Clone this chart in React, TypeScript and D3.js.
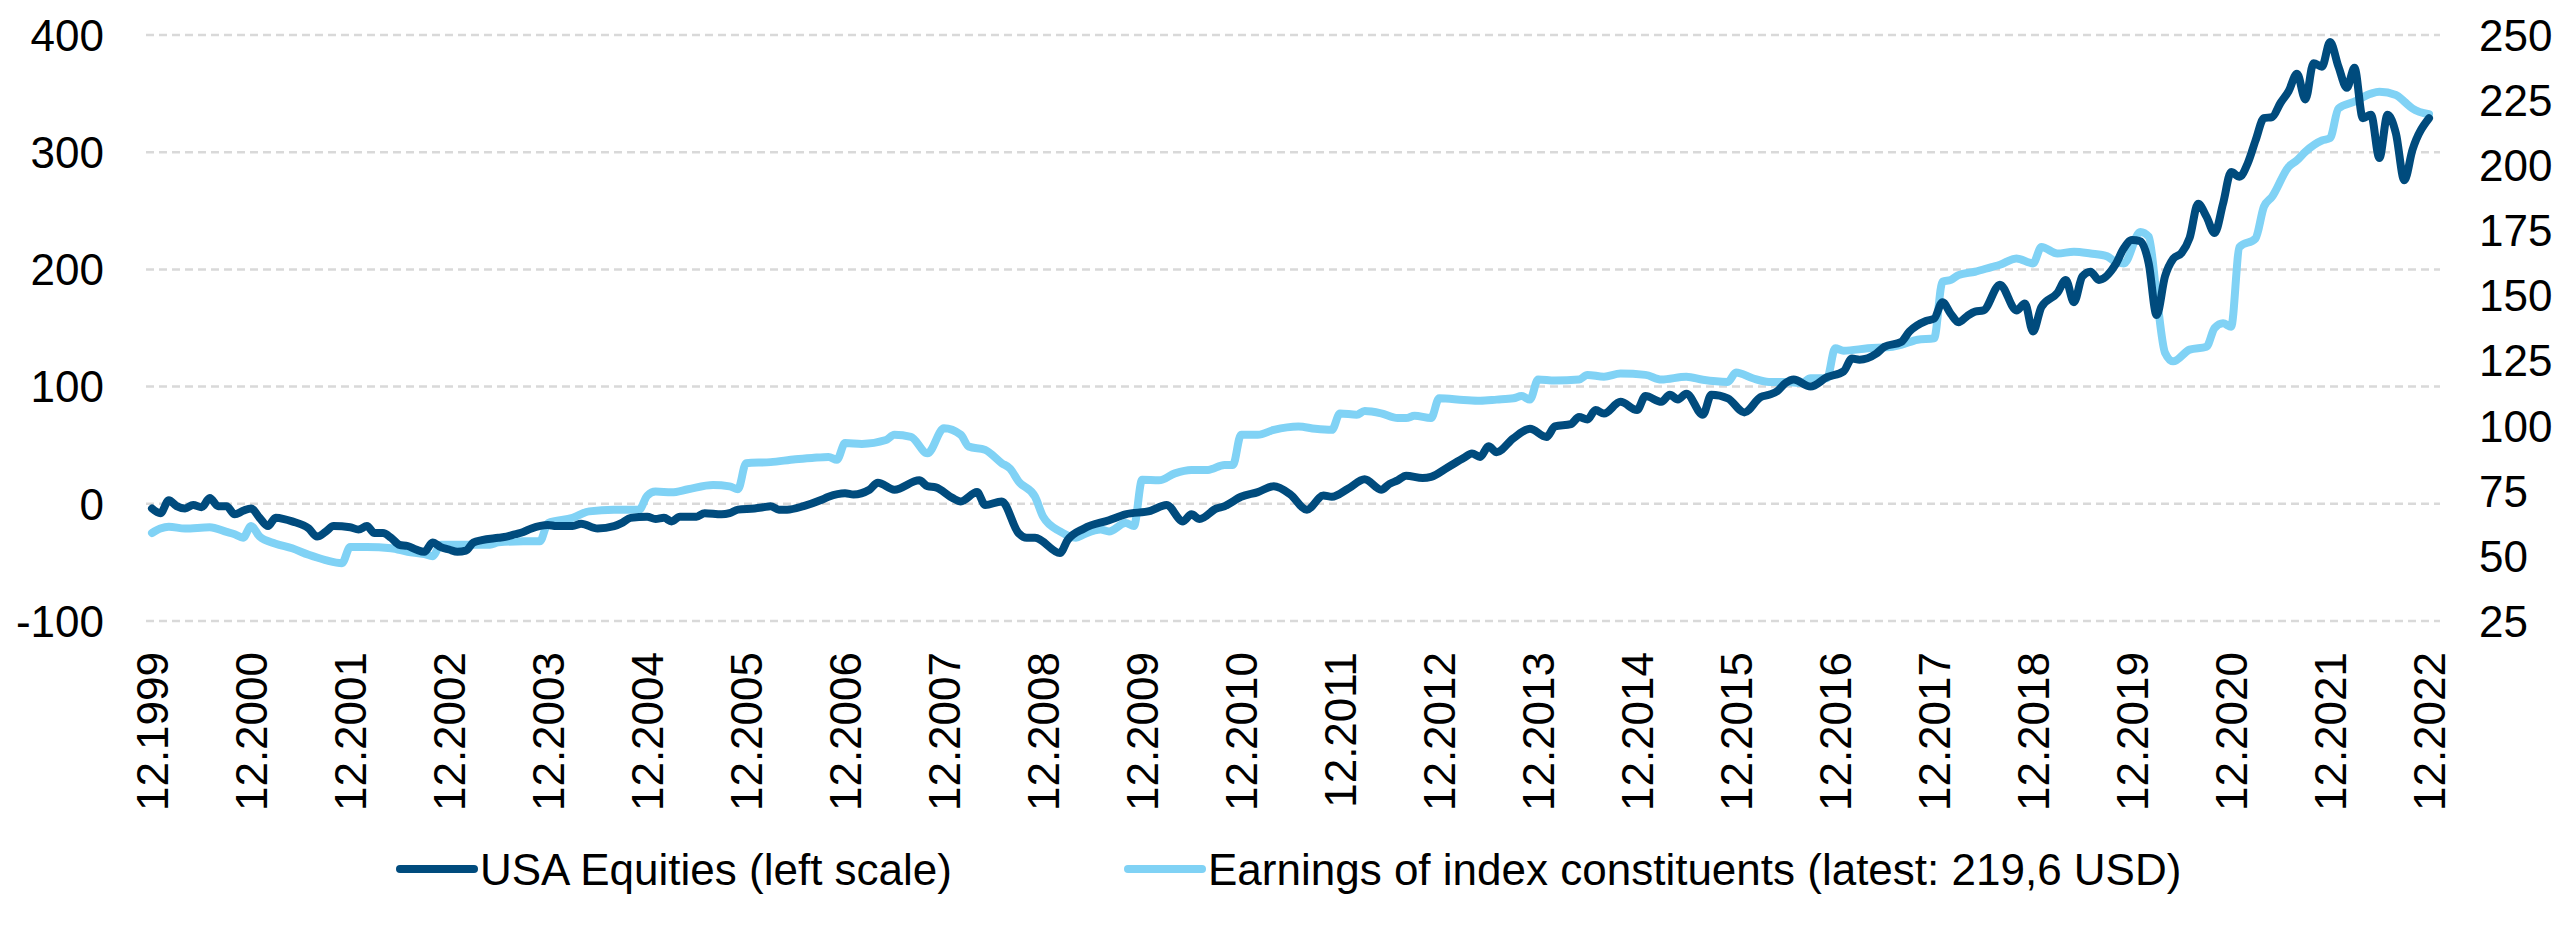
import { scaleLinear, scaleTime, line, curveMonotoneX } from 'd3'

// USA equities, % change since 12.1999 (left scale)
const equityDates = [
  '1999-12',
  '2000-01', '2000-02', '2000-03', '2000-04', '2000-05', '2000-06', '2000-07', '2000-08', '2000-09', '2000-10', '2000-11', '2000-12',
  '2001-01', '2001-02', '2001-03', '2001-04', '2001-05', '2001-07', '2001-08', '2001-09', '2001-10', '2001-12',
  '2002-01', '2002-02', '2002-03', '2002-04', '2002-05', '2002-06', '2002-07', '2002-08', '2002-09', '2002-10', '2002-11', '2002-12',
  '2003-01', '2003-02', '2003-03', '2003-04', '2003-06', '2003-07', '2003-08', '2003-09', '2003-10', '2003-12',
  '2004-01', '2004-03', '2004-04', '2004-06', '2004-08', '2004-09', '2004-10', '2004-12',
  '2005-01', '2005-02', '2005-03', '2005-04', '2005-06', '2005-07', '2005-09', '2005-10', '2005-11',
  '2006-01', '2006-02', '2006-03', '2006-04', '2006-05', '2006-07', '2006-09', '2006-10', '2006-12',
  '2007-01', '2007-03', '2007-04', '2007-06', '2007-09', '2007-10', '2007-11',
  '2008-01', '2008-02', '2008-04', '2008-05', '2008-07', '2008-09', '2008-10', '2008-11',
  '2009-02', '2009-03', '2009-05', '2009-08', '2009-10',
  '2010-01', '2010-03', '2010-05', '2010-06', '2010-07', '2010-09', '2010-10', '2010-12',
  '2011-02', '2011-04', '2011-06', '2011-08', '2011-10', '2011-11',
  '2012-01', '2012-03', '2012-05', '2012-06', '2012-07', '2012-08', '2012-10', '2012-11',
  '2013-01', '2013-03', '2013-04', '2013-05', '2013-06', '2013-07', '2013-09', '2013-11',
  '2014-01', '2014-02', '2014-04', '2014-05', '2014-06', '2014-07', '2014-08', '2014-10', '2014-12',
  '2015-01', '2015-03', '2015-04', '2015-05', '2015-06', '2015-08', '2015-09', '2015-11',
  '2016-01', '2016-03', '2016-04', '2016-05', '2016-06', '2016-07', '2016-09', '2016-11',
  '2017-01', '2017-02', '2017-03', '2017-05', '2017-06', '2017-08', '2017-09', '2017-11', '2017-12',
  '2018-01', '2018-02', '2018-03', '2018-04', '2018-05', '2018-06', '2018-08', '2018-10', '2018-11', '2018-12',
  '2019-01', '2019-03', '2019-04', '2019-05', '2019-06', '2019-07', '2019-08', '2019-10', '2019-11', '2019-12',
  '2020-01', '2020-02', '2020-03', '2020-04', '2020-05', '2020-06', '2020-07', '2020-08', '2020-09', '2020-10', '2020-11', '2020-12',
  '2021-01', '2021-02', '2021-03', '2021-04', '2021-05', '2021-06', '2021-07', '2021-08', '2021-09', '2021-10', '2021-11', '2021-12',
  '2022-01', '2022-02', '2022-03', '2022-04', '2022-05', '2022-06', '2022-07', '2022-08', '2022-09', '2022-10', '2022-12',
]
const equityValues = [
  -4,
  -8, 3, -2, -4, -1, -3, 5, -2, -2, -9, -6, -4,
  -12, -19, -12, -13, -15, -21, -28, -24, -19, -20,
  -22, -19, -25, -25, -29, -35, -36, -39, -41, -33, -37, -39,
  -41, -40, -33, -31, -29, -28, -26, -24, -21, -18,
  -19, -19, -17, -21, -19, -16, -12, -11,
  -13, -12, -15, -11, -11, -8, -9, -8, -5,
  -4, -3, -2, -5, -5, -2, 3, 6, 9,
  8, 12, 18, 12, 20, 15, 14,
  5, 2, 10, -1, 2, -25, -29, -29,
  -42, -31, -21, -14, -9,
  -6, -1, -15, -9, -13, -4, -2, 6,
  10, 15, 8, -5, 7, 6,
  13, 21, 12, 17, 20, 24, 22, 23,
  31, 39, 43, 40, 49, 44, 56, 64,
  57, 66, 68, 74, 72, 80, 77, 87, 80,
  92, 87, 93, 89, 94, 76, 93, 90,
  78, 91, 93, 96, 103, 106, 100, 108,
  113, 124, 123, 128, 134, 138, 147, 156, 158,
  172, 162, 155, 160, 164, 165, 187, 165, 171, 147,
  168, 180, 191, 172, 194, 198, 191, 204, 218, 225,
  224, 205, 161, 194, 209, 214, 227, 256, 245, 231, 256, 283,
  279, 291, 310, 329, 330, 342, 352, 367, 345, 376, 373, 394,
  373, 355, 372, 329, 332, 295, 332, 316, 276, 302, 329,
]

// Earnings of index constituents, USD (right scale)
const earningsDates = [
  '1999-12',
  '2000-01', '2000-02', '2000-04', '2000-07', '2000-09', '2000-10', '2000-11', '2000-12',
  '2001-01', '2001-03', '2001-05', '2001-07', '2001-09', '2001-11', '2001-12',
  '2002-02', '2002-05', '2002-07', '2002-09', '2002-10', '2002-11',
  '2003-02', '2003-05', '2003-06', '2003-09', '2003-11', '2003-12',
  '2004-03', '2004-05', '2004-08', '2004-11', '2004-12',
  '2005-01', '2005-03', '2005-05', '2005-08', '2005-10', '2005-11', '2005-12',
  '2006-03', '2006-06', '2006-08', '2006-10', '2006-11', '2006-12',
  '2007-02', '2007-05', '2007-06', '2007-08', '2007-10', '2007-12',
  '2008-02', '2008-03', '2008-05', '2008-07', '2008-08', '2008-09', '2008-11', '2008-12',
  '2009-02', '2009-04', '2009-05', '2009-07', '2009-08', '2009-10', '2009-11', '2009-12',
  '2010-02', '2010-04', '2010-06', '2010-08', '2010-10', '2010-11', '2010-12',
  '2011-02', '2011-04', '2011-07', '2011-09', '2011-11', '2011-12',
  '2012-02', '2012-03', '2012-05', '2012-07', '2012-08', '2012-09', '2012-11', '2012-12',
  '2013-03', '2013-05', '2013-07', '2013-09', '2013-10', '2013-11', '2013-12',
  '2014-02', '2014-05', '2014-06', '2014-08', '2014-10',
  '2015-01', '2015-03', '2015-06', '2015-08', '2015-11', '2015-12',
  '2016-02', '2016-04', '2016-06', '2016-08', '2016-09', '2016-11', '2016-12',
  '2017-01', '2017-04', '2017-07', '2017-08', '2017-10', '2017-12',
  '2018-01', '2018-02', '2018-03', '2018-05', '2018-07', '2018-08', '2018-10', '2018-12',
  '2019-01', '2019-03', '2019-05', '2019-07', '2019-09', '2019-10', '2019-11',
  '2020-01', '2020-02', '2020-03', '2020-04', '2020-05', '2020-07', '2020-09', '2020-10', '2020-11', '2020-12',
  '2021-01', '2021-03', '2021-04', '2021-05', '2021-07', '2021-08', '2021-09', '2021-11', '2021-12',
  '2022-01', '2022-03', '2022-05', '2022-06', '2022-08', '2022-09', '2022-10', '2022-12',
]
const earningsValues = [
  58.8,
  60.5, 61.2, 60.5, 61, 59.2, 58.3, 57, 61.5,
  57.4, 54.7, 52.9, 50.4, 48.4, 47.2, 53.4,
  53.4, 52.9, 51.6, 50.7, 49.9, 54.3,
  54.3, 54.3, 55.2, 55.6, 55.6, 62.6,
  64.6, 67.1, 67.7, 67.7, 73.1,
  74.7, 74.4, 75.6, 77.2, 76.7, 75.6, 85.6,
  86, 87.1, 87.6, 88, 86.9, 93.3,
  93, 94.5, 96.5, 95.7, 89.4, 99,
  96.5, 92, 90.7, 85.6, 83.5, 78.6, 72.7, 65,
  59.4, 57, 58.3, 60.1, 59.4, 62.6, 61.5, 79.2,
  79, 81.7, 83, 83, 84.9, 84.9, 96.5,
  96.5, 98.4, 99.7, 98.8, 98.4, 104.7,
  104.2, 105.6, 104.7, 102.9, 102.9, 103.8, 102.9, 110.5,
  109.9, 109.6, 110, 110.5, 111.4, 110, 117.7,
  117.3, 117.7, 119.5, 118.8, 120,
  119.5, 117.7, 118.8, 117.6, 116.8, 120.4,
  118.2, 116.8, 116.8, 116.4, 118.2, 118.2, 129.7,
  128.8, 129.7, 130.3, 131, 133, 133.5,
  155.3, 156, 157.8, 159.1, 160.9, 161.8, 164.2, 162.3,
  168.6, 166.1, 166.8, 166.1, 165, 162.9, 162.3,
  174.4, 172.6, 150, 128, 124.7, 129.2, 130.3, 137.5, 139.3, 138,
  168.6, 171.9, 184.1, 187.9, 199.4, 201.9, 205.2, 209.5, 210.4,
  221.8, 224.4, 227.5, 228.2, 227, 224.4, 221.8, 219.6,
]

const leftTicks = [400, 300, 200, 100, 0, -100]
const rightTicks = [250, 225, 200, 175, 150, 125, 100, 75, 50, 25]
const xTickLabels = [
  '12.1999', '12.2000', '12.2001', '12.2002', '12.2003', '12.2004', '12.2005', '12.2006',
  '12.2007', '12.2008', '12.2009', '12.2010', '12.2011', '12.2012', '12.2013', '12.2014',
  '12.2015', '12.2016', '12.2017', '12.2018', '12.2019', '12.2020', '12.2021', '12.2022',
]

const equityLabel = 'USA Equities (left scale)'
const earningsLabel = 'Earnings of index constituents (latest: 219,6 USD)'

const darkBlue = '#004b7d'
const lightBlue = '#80d2f5'

function parseMonth(s: string) {
  const [y, m] = s.split('-')
  return new Date(+y, +m - 1, 1)
}

function parseTick(s: string) {
  const [m, y] = s.split('.')
  return new Date(+y, +m - 1, 1)
}

function App() {
  const width = 2560
  const height = 931
  const fontSize = 44
  const lineWidth = 8

  const x = scaleTime()
    .domain([new Date(1999, 11, 1), new Date(2022, 11, 1)])
    .range([152, 2429])
  const yLeft = scaleLinear().domain([-100, 400]).range([621, 35])
  const yRight = scaleLinear().domain([25, 250]).range([621, 35])

  const equity = equityDates.map((d, i) => ({ date: parseMonth(d), value: equityValues[i] }))
  const earnings = earningsDates.map((d, i) => ({ date: parseMonth(d), value: earningsValues[i] }))

  const equityLine: any = line<any>()
    .x(d => x(d.date))
    .y(d => yLeft(d.value))
    .curve(curveMonotoneX)
  const earningsLine: any = line<any>()
    .x(d => x(d.date))
    .y(d => yRight(d.value))
    .curve(curveMonotoneX)

  const gridStart = 146
  const gridEnd = 2440
  const legendY = 869

  return (
    <div style={{ position: 'fixed', left: 0, top: 0 }}>
      <svg width={width} height={height} style={{ display: 'block', background: 'white' }}
        fontFamily='"Liberation Sans", Arial, sans-serif' fontSize={fontSize}>

        {leftTicks.map(t => (
          <g key={'g' + t}>
            <line x1={gridStart} x2={gridEnd} y1={yLeft(t)} y2={yLeft(t)}
              stroke="#d9d9d9" strokeWidth={2.5} strokeDasharray="8 5" />
            <text x={104} y={yLeft(t)} dy="0.36em" textAnchor="end" fill="#000">{t}</text>
          </g>
        ))}

        {rightTicks.map(t => (
          <text key={'r' + t} x={2479} y={yRight(t)} dy="0.36em" fill="#000">{t}</text>
        ))}

        {xTickLabels.map(s => (
          <text key={s} transform={`translate(${x(parseTick(s))},652) rotate(-90)`}
            dy="0.36em" textAnchor="end" fill="#000">{s}</text>
        ))}

        <path d={earningsLine(earnings)} fill="none" stroke={lightBlue}
          strokeWidth={lineWidth} strokeLinejoin="round" strokeLinecap="round" />
        <path d={equityLine(equity)} fill="none" stroke={darkBlue}
          strokeWidth={lineWidth} strokeLinejoin="round" strokeLinecap="round" />

        {/* legend */}
        <line x1={400} x2={474} y1={legendY} y2={legendY} stroke={darkBlue}
          strokeWidth={8} strokeLinecap="round" />
        <text x={480} y={legendY} dy="0.36em" fill="#000">{equityLabel}</text>
        <line x1={1128} x2={1202} y1={legendY} y2={legendY} stroke={lightBlue}
          strokeWidth={8} strokeLinecap="round" />
        <text x={1208} y={legendY} dy="0.36em" fill="#000">{earningsLabel}</text>
      </svg>
    </div>
  )
}

export default App
